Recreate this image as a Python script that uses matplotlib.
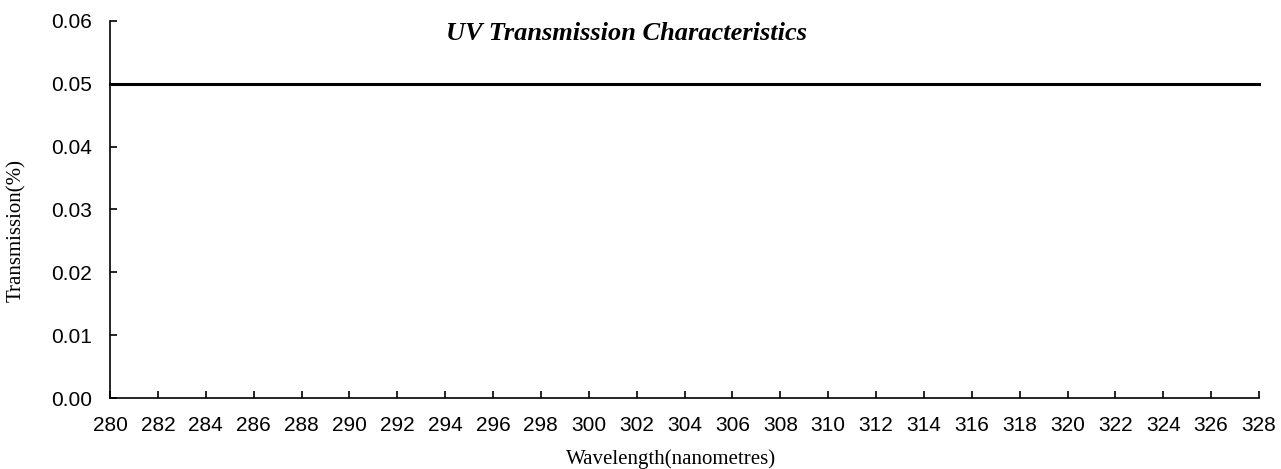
import numpy as np
import matplotlib
matplotlib.use("Agg")
import matplotlib.pyplot as plt

# wavelength (nm) and transmission (%)
wavelength = [280, 284, 288, 292, 296, 300, 304, 308, 312, 316, 320, 324, 328]
transmission = [0.05, 0.05, 0.05, 0.05, 0.05, 0.05, 0.05, 0.05, 0.05, 0.05, 0.05, 0.05, 0.05]

x_ticks = np.arange(280, 329, 2)
y_ticks = [0.00, 0.01, 0.02, 0.03, 0.04, 0.05, 0.06]

fig = plt.figure(figsize=(12.81, 4.69), dpi=100)
ax = fig.add_axes([110/1281, 1 - 398/469, (1259 - 110)/1281, (398 - 21)/469])

ax.plot(wavelength, transmission, color="black", linewidth=2.2, clip_on=False)

ax.set_xlim(280, 328)
ax.set_ylim(0, 0.06)
ax.set_xticks(x_ticks)
ax.set_yticks(y_ticks)
ax.set_yticklabels(["%.2f" % v for v in y_ticks])

for s in ["top", "right"]:
    ax.spines[s].set_visible(False)
for s in ["left", "bottom"]:
    ax.spines[s].set_linewidth(1.2)

ax.tick_params(axis="x", direction="in", length=5, width=1.2, pad=13,
               labelsize=15, labelfontfamily="Liberation Sans")
ax.tick_params(axis="y", direction="in", length=5, width=1.2, pad=13,
               labelsize=15, labelfontfamily="Liberation Sans")

fig.text(626/1281, 1 - 34/469, "UV Transmission Characteristics",
         ha="center", va="center", fontsize=19, fontweight="bold",
         fontstyle="italic", family="Liberation Serif")
fig.text(671/1281, 1 - 459/469, "Wavelength(nanometres)", ha="center", va="center",
         fontsize=15, family="Liberation Serif")
fig.text(16/1281, 1 - 230/469, "Transmission(%)", ha="center", va="center",
         rotation=90, fontsize=15, family="Liberation Serif")

fig.savefig("out.png", dpi=100)
